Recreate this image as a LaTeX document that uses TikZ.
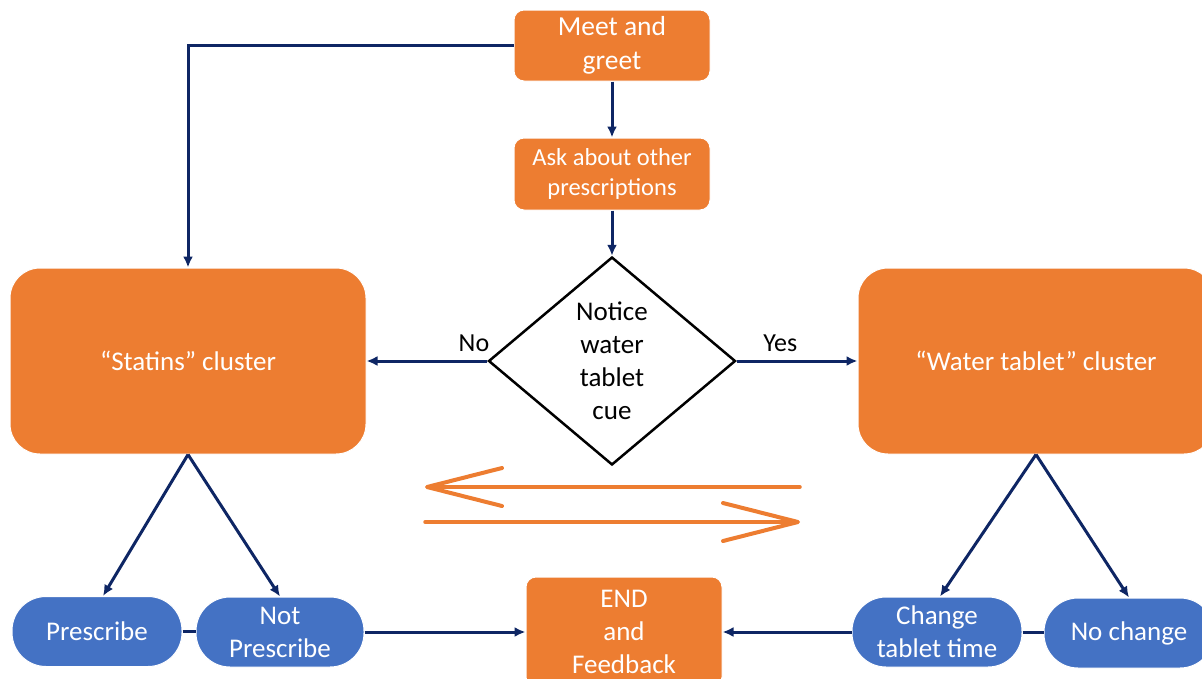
\documentclass[tikz,border=0pt]{standalone}
\usepackage{fontspec}
\setmainfont{Carlito}
\usetikzlibrary{shapes.geometric,arrows.meta}
\definecolor{BoxOrange}{RGB}{237,125,49}
\definecolor{PillBlue}{RGB}{68,114,196}
\definecolor{NavyLine}{RGB}{14,38,100}

\begin{document}
\begin{tikzpicture}[x=1pt,y=-1pt,
  orangebox/.style={fill=BoxOrange,draw=white,line width=1pt,text=white,rounded corners=10pt,align=center,inner sep=0pt},
  cluster/.style={orangebox,rounded corners=30pt,minimum width=356pt,minimum height=186pt,font=\fontsize{27}{33}\selectfont},
  pill/.style={fill=PillBlue,draw=white,line width=1pt,text=white,rounded corners=34pt,minimum height=70pt,align=center,inner sep=0pt,font=\fontsize{27}{33}\selectfont},
  navyline/.style={NavyLine,line width=3pt},
  navyarrow/.style={navyline,-{Latex[length=11pt,width=10pt]}},
  orangearrow/.style={BoxOrange,line width=3.5pt,line cap=round,-{Straight Barb[length=75pt,width=38pt,line width=4pt,round]}}]
\useasboundingbox (0,0) rectangle (1202,678);
\clip (0,0) rectangle (1202,678);

\node[orangebox,minimum width=196pt,minimum height=71pt,font=\fontsize{27.5}{34}\selectfont] (meetgreet) at (612,45.5) {Meet and\\greet};
\node[orangebox,minimum width=196pt,minimum height=72pt,font=\fontsize{24.5}{30}\selectfont] (askpresc) at (612,174) {Ask about other\\prescriptions};
\node[diamond,draw=black,line width=2.5pt,fill=white,minimum width=247pt,minimum height=208pt,inner sep=0pt,align=center,font=\fontsize{27}{33}\selectfont] (notice) at (612,361) {Notice\\water\\tablet\\cue};
\node[cluster] (statins) at (188,361) {“Statins” cluster};
\node[cluster] (watertab) at (1036,361) {“Water tablet” cluster};
\node[orangebox,minimum width=196pt,minimum height=110pt,font=\fontsize{27}{33}\selectfont] (endfb) at (624,632) {END\\and\\Feedback};
\node[pill,minimum width=170pt] (prescribe) at (97,631.5) {Prescribe};
\node[pill,minimum width=168pt] (notpresc) at (280,632) {Not\\Prescribe};
\node[pill,minimum width=170pt] (changetab) at (937,632) {Change\\tablet time};
\node[pill,minimum width=170pt] (nochange) at (1129,633) {No change};

\draw[navyarrow] (meetgreet.west) -| (statins.north);
\draw[navyarrow] (meetgreet) -- (askpresc);
\draw[navyarrow] (askpresc) -- (notice);
\draw[navyarrow] (notice.west) -- node[pos=0.11,above=4pt,black,font=\fontsize{26}{30}\selectfont] {No} (statins.east);
\draw[navyarrow] (notice.east) -- node[pos=0.36,above=4pt,black,font=\fontsize{26}{30}\selectfont] {Yes} (watertab.west);
\draw[navyarrow] (statins.south) -- ([xshift=6pt]prescribe.north);
\draw[navyarrow] (statins.south) -- (notpresc.north);
\draw[navyarrow] (watertab.south) -- ([xshift=3pt]changetab.north);
\draw[navyarrow] (watertab.south) -- (nochange.north);
\draw[navyline] (prescribe.east) -- (notpresc.west |- prescribe.east);
\draw[navyarrow] (notpresc.east) -- (endfb.west |- notpresc.east);
\draw[navyarrow] (changetab.west) -- (endfb.east |- changetab.west);
\draw[navyline] (changetab.east) -- (nochange.west |- changetab.east);

% back and forth between the two clusters
\coordinate (rightup) at (800,487);
\coordinate (leftup) at (425,487);
\coordinate (leftdown) at (425,522);
\coordinate (rightdown) at (800,522);
\draw[orangearrow] (rightup) -- (leftup);
\draw[orangearrow] (leftdown) -- (rightdown);
\end{tikzpicture}
\end{document}
